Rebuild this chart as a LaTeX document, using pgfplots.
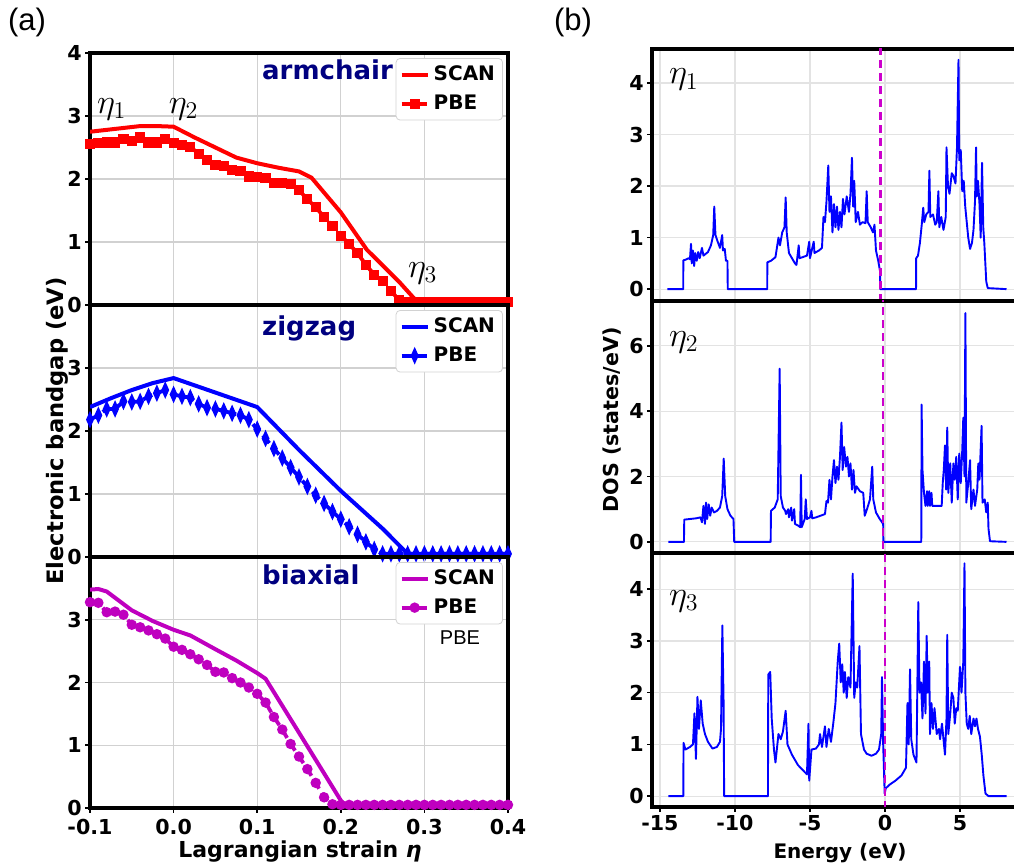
\documentclass[border=0pt]{standalone}
\usepackage{fontspec}
\setmainfont{DejaVu Sans}
\newfontfamily\arialf{Liberation Sans}
\usepackage{pgfplots}
\pgfplotsset{compat=1.18}

\definecolor{mred}{rgb}{1,0,0}
\definecolor{mblue}{rgb}{0,0,1}
\definecolor{mmag}{rgb}{0.75,0,0.75}
\definecolor{vline}{rgb}{0.8,0,0.8}
\definecolor{navy}{rgb}{0,0,0.5}
\definecolor{gridc}{gray}{0.82}

\tikzset{eta/.style={font=\fontsize{17.5}{20}\selectfont}}

\pgfplotsset{
  base/.style={scale only axis, axis line style={line width=1.6pt},
    grid=major, grid style={gridc, line width=0.6pt},
    tick align=outside, major tick length=2.5pt,
    tick style={black, line width=0.8pt},
    ticklabel style={font=\bfseries\fontsize{10.3}{12}\selectfont},
    yticklabel style={inner xsep=1.5pt, inner ysep=0pt},
    xticklabel style={inner xsep=0pt, inner ysep=1.5pt},
    xtick pos=bottom, ytick pos=left},
  lp/.style={base, width=209pt, height=126pt,
    xmin=-0.1, xmax=0.4, ymin=0, ymax=4,
    xtick={-0.1,0,0.1,0.2,0.3,0.4}, xticklabels={},
    ytick={0,1,2,3}, yticklabels={0,1,2,3},
    legend style={at={(0.988,0.98)}, anchor=north east, draw=gray!35,
      rounded corners=2pt, fill=white, font=\bfseries\fontsize{10}{11}\selectfont,
      inner sep=1.8pt, row sep=1.5pt},
    legend cell align=left,
    legend image code/.code={\draw[mark repeat=2,mark phase=2,##1] plot coordinates {(0pt,0pt) (6.5pt,0pt) (13pt,0pt)};}},
  rp/.style={base, width=184pt, xmin=-15.53, xmax=9,
    xtick={-15,-10,-5,0,5}, xticklabels={}, grid style={gray!22, line width=0.6pt}},
  scan/.style={line width=2pt, #1},
  pbe/.style={line width=1.9pt, #1, dash pattern=on 5pt off 2.5pt, mark options={solid}},
  dos/.style={mblue, line width=0.95pt, line join=round},
  ef/.style={vline, line width=1.2pt, dash pattern=on 4pt off 2.5pt},
}

\begin{document}
\begin{tikzpicture}

% ---------------- (a) armchair ----------------
\begin{axis}[lp, at={(45pt,281pt)}, anchor=south west,
  ytick={0,1,2,3,4}, yticklabels={0,1,2,3,4}, xtick style={draw=none}]
\addplot[scan=mred] coordinates {
(-0.10,2.75) (-0.08,2.78) (-0.06,2.81) (-0.04,2.84) (-0.02,2.84) (0.00,2.83)
(0.025,2.66) (0.05,2.50) (0.075,2.34) (0.10,2.25) (0.125,2.18) (0.15,2.12)
(0.165,2.02) (0.20,1.47) (0.231,0.88) (0.271,0.35) (0.29,0.07) (0.40,0.07)};
\addlegendentry{SCAN}
\addplot[pbe=mred, mark=square*, mark size=1.6pt] coordinates {
(-0.10,2.55) (-0.09,2.57) (-0.08,2.58) (-0.07,2.58) (-0.06,2.63) (-0.05,2.60)
(-0.04,2.66) (-0.03,2.58) (-0.02,2.58) (-0.01,2.64) (0.00,2.57) (0.01,2.54)
(0.02,2.51) (0.03,2.40) (0.04,2.30) (0.05,2.22) (0.06,2.20) (0.07,2.14)
(0.08,2.13) (0.09,2.04) (0.10,2.03) (0.11,2.02) (0.12,1.94) (0.13,1.94)
(0.14,1.92) (0.15,1.82) (0.16,1.68) (0.17,1.55) (0.18,1.40) (0.19,1.25)
(0.20,1.10) (0.21,0.97) (0.22,0.82) (0.23,0.64) (0.24,0.48) (0.25,0.38)
(0.26,0.22) (0.27,0.08) (0.28,0.05) (0.29,0.05) (0.30,0.05) (0.31,0.05)
(0.32,0.05) (0.33,0.05) (0.34,0.05) (0.35,0.05) (0.36,0.05) (0.37,0.05)
(0.38,0.05) (0.39,0.05) (0.40,0.05)};
\addlegendentry{PBE}
\node[anchor=west, text=navy, font=\bfseries\fontsize{13}{15}\selectfont] at (rel axis cs:0.395,0.933) {armchair};
\node[eta] at (axis cs:-0.074,3.1) {$\eta_1$};
\node[eta] at (axis cs:0.012,3.1) {$\eta_2$};
\node[eta] at (axis cs:0.298,0.5) {$\eta_3$};
\end{axis}

% ---------------- (a) zigzag ----------------
\begin{axis}[lp, at={(45pt,155pt)}, anchor=south west, xtick style={draw=none}]
\addplot[scan=mblue] coordinates {
(-0.10,2.38) (-0.075,2.52) (-0.05,2.65) (-0.025,2.76) (0.00,2.84) (0.05,2.61)
(0.10,2.38) (0.15,1.70) (0.20,1.05) (0.25,0.45) (0.28,0.05) (0.40,0.05)};
\addlegendentry{SCAN}
\addplot[pbe=mblue, mark=diamond*, mark size=2.1pt, mark options={solid, xscale=0.6}] coordinates {
(-0.10,2.18) (-0.09,2.25) (-0.08,2.35) (-0.07,2.35) (-0.06,2.47) (-0.05,2.46)
(-0.04,2.47) (-0.03,2.55) (-0.02,2.60) (-0.01,2.65) (0.00,2.58) (0.01,2.55)
(0.02,2.53) (0.03,2.43) (0.04,2.37) (0.05,2.35) (0.06,2.32) (0.07,2.28)
(0.08,2.25) (0.09,2.18) (0.10,2.03) (0.11,1.88) (0.12,1.72) (0.13,1.57)
(0.14,1.42) (0.15,1.27) (0.16,1.12) (0.17,0.98) (0.18,0.85) (0.19,0.72)
(0.20,0.60) (0.21,0.48) (0.22,0.36) (0.23,0.24) (0.24,0.12) (0.25,0.05)
(0.26,0.05) (0.27,0.05) (0.28,0.05) (0.29,0.05) (0.30,0.05) (0.31,0.05)
(0.32,0.05) (0.33,0.05) (0.34,0.05) (0.35,0.05) (0.36,0.05) (0.37,0.05)
(0.38,0.05) (0.39,0.05) (0.40,0.05)};
\addlegendentry{PBE}
\node[anchor=west, text=navy, font=\bfseries\fontsize{13}{15}\selectfont] at (rel axis cs:0.395,0.909) {zigzag};
\end{axis}

% ---------------- (a) biaxial ----------------
\begin{axis}[lp, at={(45pt,29.5pt)}, anchor=south west, height=125.5pt,
  xticklabels={-0.1,0.0,0.1,0.2,0.3,0.4}, xticklabel style={yshift=-1.5pt}]
\addplot[scan=mmag] coordinates {
(-0.10,3.48) (-0.09,3.49) (-0.08,3.45) (-0.05,3.15) (-0.025,2.98) (0.00,2.84)
(0.02,2.75) (0.05,2.53) (0.075,2.35) (0.10,2.15) (0.11,2.06) (0.15,1.20)
(0.20,0.12) (0.205,0.05) (0.40,0.05)};
\addlegendentry{SCAN}
\addplot[pbe=mmag, mark=*, mark size=1.6pt] coordinates {
(-0.10,3.28) (-0.09,3.27) (-0.08,3.12) (-0.07,3.13) (-0.06,3.08) (-0.05,2.92)
(-0.04,2.88) (-0.03,2.83) (-0.02,2.77) (-0.01,2.70) (0.00,2.57) (0.01,2.52)
(0.02,2.45) (0.03,2.37) (0.04,2.28) (0.05,2.17) (0.06,2.16) (0.07,2.07)
(0.08,2.00) (0.09,1.92) (0.10,1.82) (0.11,1.68) (0.12,1.45) (0.13,1.25)
(0.14,1.02) (0.15,0.82) (0.16,0.62) (0.17,0.40) (0.18,0.17) (0.19,0.06)
(0.20,0.05) (0.21,0.05) (0.22,0.05) (0.23,0.05) (0.24,0.05) (0.25,0.05)
(0.26,0.05) (0.27,0.05) (0.28,0.05) (0.29,0.05) (0.30,0.05) (0.31,0.05)
(0.32,0.05) (0.33,0.05) (0.34,0.05) (0.35,0.05) (0.36,0.05) (0.37,0.05)
(0.38,0.05) (0.39,0.05) (0.40,0.05)};
\addlegendentry{PBE}
\node[anchor=west, text=navy, font=\bfseries\fontsize{13}{15}\selectfont] at (rel axis cs:0.395,0.928) {biaxial};
\node[font=\arialf\fontsize{10}{12}\selectfont] at (rel axis cs:0.885,0.68) {PBE};
\end{axis}

% ---------------- (b) eta1 ----------------
\begin{axis}[rp, at={(326pt,283pt)}, anchor=south west, height=126pt,
  ymin=-0.23, ymax=4.66, ytick={0,1,2,3,4}, yticklabels={0,1,2,3,4}, xtick style={draw=none}]
\addplot[dos] coordinates {
(-14.5,0) (-13.45,0) (-13.44,0.56) (-13.3,0.57) (-13.1,0.6) (-13.0,0.58) (-12.93,0.88)
(-12.88,0.5) (-12.8,0.75) (-12.72,0.45) (-12.65,0.7) (-12.55,0.55) (-12.45,0.72)
(-12.35,0.6) (-12.2,0.8) (-12.1,0.65) (-11.8,0.72) (-11.6,0.85) (-11.45,1.05)
(-11.38,1.6) (-11.3,1.05) (-11.15,0.92) (-11.0,0.8) (-10.85,1.05) (-10.8,0.75)
(-10.68,0.78) (-10.6,0.55) (-10.5,0.55) (-10.48,0) (-7.85,0) (-7.84,0.52) (-7.6,0.55)
(-7.3,0.62) (-7.1,1.0) (-7.0,0.85) (-6.85,1.1) (-6.7,1.2) (-6.62,1.78) (-6.55,1.1)
(-6.4,0.7) (-6.2,0.6) (-6.0,0.5) (-5.9,0.47) (-5.75,0.85) (-5.7,0.6) (-5.5,0.62)
(-5.2,0.65) (-5.05,0.92) (-5.0,0.6) (-4.75,0.92) (-4.7,0.7) (-4.4,0.75) (-4.2,0.8)
(-4.1,1.4) (-4.0,1.3) (-3.9,1.7) (-3.78,2.4) (-3.7,1.5) (-3.6,1.8) (-3.5,1.1)
(-3.4,1.65) (-3.3,1.2) (-3.2,1.6) (-3.1,1.15) (-3.0,1.5) (-2.9,1.2) (-2.8,1.75)
(-2.7,1.45) (-2.55,1.8) (-2.4,1.5) (-2.3,1.85) (-2.2,2.55) (-2.12,1.6) (-2.05,2.1)
(-1.95,1.3) (-1.8,1.5) (-1.67,1.25) (-1.5,1.3) (-1.3,1.28) (-1.22,1.9) (-1.15,1.3)
(-0.95,1.2) (-0.8,1.1) (-0.7,1.25) (-0.6,0.75) (-0.45,0.55) (-0.33,0.35) (-0.32,0)
(2.07,0) (2.08,0.6) (2.2,0.65) (2.33,0.9) (2.45,1.25) (2.55,1.58) (2.62,1.3)
(2.75,1.45) (2.9,1.5) (2.96,2.3) (3.02,1.4) (3.2,1.45) (3.35,1.25) (3.45,1.3)
(3.56,1.9) (3.62,1.2) (3.75,1.4) (3.9,1.15) (4.05,1.4) (4.1,2.75) (4.2,2.0)
(4.3,1.85) (4.45,2.25) (4.56,2.2) (4.7,2.05) (4.8,2.75) (4.9,4.45) (4.95,2.5)
(5.05,2.7) (5.15,1.9) (5.25,2.1) (5.35,1.6) (5.45,1.3) (5.55,1.0) (5.67,0.78)
(5.8,0.9) (5.9,1.15) (6.0,1.7) (6.07,2.75) (6.12,1.8) (6.2,2.1) (6.3,1.65)
(6.38,1.0) (6.47,2.45) (6.55,1.2) (6.62,0.9) (6.75,0.15) (6.85,0.02) (8.1,0)};
\addplot[ef] coordinates {(-0.3,-1) (-0.3,6)};
\node[eta] at (axis cs:-13.4,4.06) {$\eta_1$};
\end{axis}

% ---------------- (b) eta2 ----------------
\begin{axis}[rp, at={(326pt,157pt)}, anchor=south west, height=126pt,
  ymin=-0.34, ymax=7.37, ytick={0,2,4,6}, yticklabels={0,2,4,6}, xtick style={draw=none}]
\addplot[dos] coordinates {
(-14.44,0) (-13.4,0) (-13.38,0.68) (-13.0,0.7) (-12.6,0.72) (-12.3,0.75) (-12.2,0.6)
(-12.1,1.1) (-12.0,0.55) (-11.93,1.2) (-11.85,0.7) (-11.75,1.15) (-11.65,0.8)
(-11.55,1.05) (-11.4,0.9) (-11.2,0.95) (-11.0,1.05) (-10.85,1.4) (-10.75,2.55)
(-10.65,1.4) (-10.5,1.0) (-10.3,0.8) (-10.1,0.7) (-10.05,0) (-7.62,0) (-7.6,0.95)
(-7.35,1.05) (-7.15,1.3) (-7.02,5.3) (-6.95,1.4) (-6.8,1.05) (-6.65,0.95) (-6.6,0.85)
(-6.45,1.0) (-6.4,0.75) (-6.25,1.05) (-6.2,0.65) (-6.05,1.0) (-6.0,0.55) (-5.8,0.5)
(-5.65,0.45) (-5.6,2.05) (-5.55,0.45) (-5.35,0.7) (-5.28,1.3) (-5.2,0.7) (-5.0,0.75)
(-4.9,0.95) (-4.85,0.72) (-4.6,0.75) (-4.3,0.8) (-4.0,0.85) (-3.9,1.25) (-3.8,1.2)
(-3.7,1.9) (-3.6,1.3) (-3.5,2.0) (-3.4,2.5) (-3.3,1.8) (-3.2,2.3) (-3.1,1.9)
(-3.0,2.6) (-2.9,3.65) (-2.82,2.2) (-2.72,2.9) (-2.6,2.3) (-2.5,2.6) (-2.4,2.0)
(-2.3,2.4) (-2.2,1.6) (-2.1,2.2) (-2.0,1.5) (-1.9,1.7) (-1.67,1.55) (-1.45,1.5)
(-1.35,0.8) (-1.2,1.0) (-1.0,1.3) (-0.85,2.3) (-0.78,1.3) (-0.6,0.9) (-0.35,0.7)
(-0.12,0.55) (-0.11,0) (2.42,0) (2.44,4.2) (2.5,2.2) (2.6,1.5) (2.7,1.1) (2.8,1.55)
(2.85,1.1) (2.95,1.55) (3.0,1.1) (3.1,1.5) (3.15,1.1) (3.3,1.1) (3.55,1.1) (3.78,1.1)
(3.85,1.8) (3.92,2.2) (4.0,2.95) (4.08,1.6) (4.15,3.5) (4.22,1.5) (4.35,2.4)
(4.45,1.2) (4.56,2.4) (4.65,1.9) (4.75,2.6) (4.85,1.3) (4.95,2.7) (5.05,1.8)
(5.15,2.8) (5.22,3.8) (5.3,2.0) (5.36,7.0) (5.42,1.2) (5.55,1.8) (5.67,2.5)
(5.75,1.0) (5.9,1.6) (6.0,1.1) (6.15,1.6) (6.22,2.4) (6.3,1.9) (6.44,3.55)
(6.5,1.2) (6.65,1.3) (6.75,0.9) (6.85,1.2) (6.9,0.4) (7.0,0.02) (8.1,0)};
\addplot[ef] coordinates {(-0.15,-1) (-0.15,9)};
\node[eta] at (axis cs:-13.4,6.1) {$\eta_2$};
\end{axis}

% ---------------- (b) eta3 ----------------
\begin{axis}[rp, at={(326pt,30pt)}, anchor=south west, height=127pt,
  ymin=-0.21, ymax=4.70, ytick={0,1,2,3,4}, yticklabels={0,1,2,3,4},
  xticklabels={-15,-10,-5,0,5}]
\addplot[dos] coordinates {
(-14.44,0) (-13.44,0) (-13.43,1.03) (-13.3,0.9) (-13.0,0.95) (-12.8,1.0) (-12.7,1.6)
(-12.6,0.72) (-12.5,1.92) (-12.4,1.3) (-12.28,1.85) (-12.15,1.4) (-12.0,1.2)
(-11.8,1.05) (-11.5,0.92) (-11.2,0.95) (-11.0,1.05) (-10.93,1.3) (-10.84,3.3)
(-10.76,1.85) (-10.72,0) (-7.8,0) (-7.78,2.35) (-7.65,2.4) (-7.55,1.5) (-7.4,0.9)
(-7.3,0.65) (-7.1,1.2) (-6.95,1.1) (-6.8,1.25) (-6.62,1.65) (-6.5,1.0) (-6.2,0.8)
(-5.8,0.6) (-5.4,0.48) (-5.2,0.42) (-5.1,1.4) (-5.05,0.3) (-4.9,0.9) (-4.6,0.92)
(-4.4,1.0) (-4.33,1.2) (-4.2,0.95) (-4.0,1.35) (-3.9,0.95) (-3.75,1.3) (-3.6,1.05)
(-3.45,1.4) (-3.3,1.8) (-3.15,2.6) (-3.05,2.95) (-2.95,2.2) (-2.85,2.55) (-2.75,2.0)
(-2.67,2.4) (-2.55,1.9) (-2.45,2.3) (-2.3,2.1) (-2.15,4.3) (-2.05,1.9) (-1.95,2.2)
(-1.85,2.1) (-1.7,2.9) (-1.6,1.2) (-1.4,0.9) (-1.22,0.82) (-0.9,0.78) (-0.6,0.82)
(-0.4,0.9) (-0.25,1.2) (-0.2,2.3) (-0.12,1.0) (-0.02,0.05) (0.05,0.15) (0.3,0.22)
(0.7,0.3) (1.1,0.4) (1.4,0.55) (1.5,1.8) (1.58,1.0) (1.67,2.45) (1.75,1.1) (1.9,0.8)
(2.1,0.65) (2.22,3.75) (2.3,2.0) (2.4,2.2) (2.5,1.5) (2.6,2.6) (2.7,1.6) (2.78,3.1)
(2.85,2.0) (2.95,2.6) (3.0,1.2) (3.1,1.8) (3.2,1.3) (3.3,1.7) (3.45,1.2) (3.6,1.3)
(3.67,1.1) (3.8,1.4) (3.9,1.1) (4.0,0.8) (4.1,1.5) (4.15,3.12) (4.22,1.2) (4.35,1.6)
(4.45,2.0) (4.56,1.9) (4.65,1.4) (4.75,1.7) (4.85,1.65) (5.0,2.5) (5.1,2.0)
(5.22,2.6) (5.3,4.5) (5.36,2.0) (5.45,1.4) (5.55,1.3) (5.65,1.55) (5.75,1.2)
(5.9,1.5) (6.0,1.35) (6.1,1.5) (6.2,1.3) (6.33,1.15) (6.45,0.8) (6.56,0.4)
(6.7,0.05) (6.9,0) (8.1,0)};
\addplot[ef] coordinates {(0,-1) (0,6)};
\node[eta] at (axis cs:-13.4,3.77) {$\eta_3$};
\end{axis}

% ---------------- labels ----------------
\node[rotate=90, font=\bfseries\fontsize{11.3}{13}\selectfont] at (28.5pt,218pt) {Electronic bandgap (eV)};
\node[font=\bfseries\fontsize{11}{13}\selectfont, inner sep=1pt] at (150pt,7.5pt) {Lagrangian strain {\itshape η}};
\node[rotate=90, font=\bfseries\fontsize{10.3}{12}\selectfont] at (306pt,223.5pt) {DOS (states/eV)};
\node[font=\bfseries\fontsize{10}{12}\selectfont, inner sep=1pt] at (420pt,7pt) {Energy (eV)};
\node[font=\arialf\fontsize{15.5}{18}\selectfont] at (13.5pt,422.5pt) {(a)};
\node[font=\arialf\fontsize{15.5}{18}\selectfont] at (286.5pt,422.5pt) {(b)};

\pgfresetboundingbox
\path[use as bounding box] (0,0) rectangle (507pt,433.5pt);
\end{tikzpicture}
\end{document}
